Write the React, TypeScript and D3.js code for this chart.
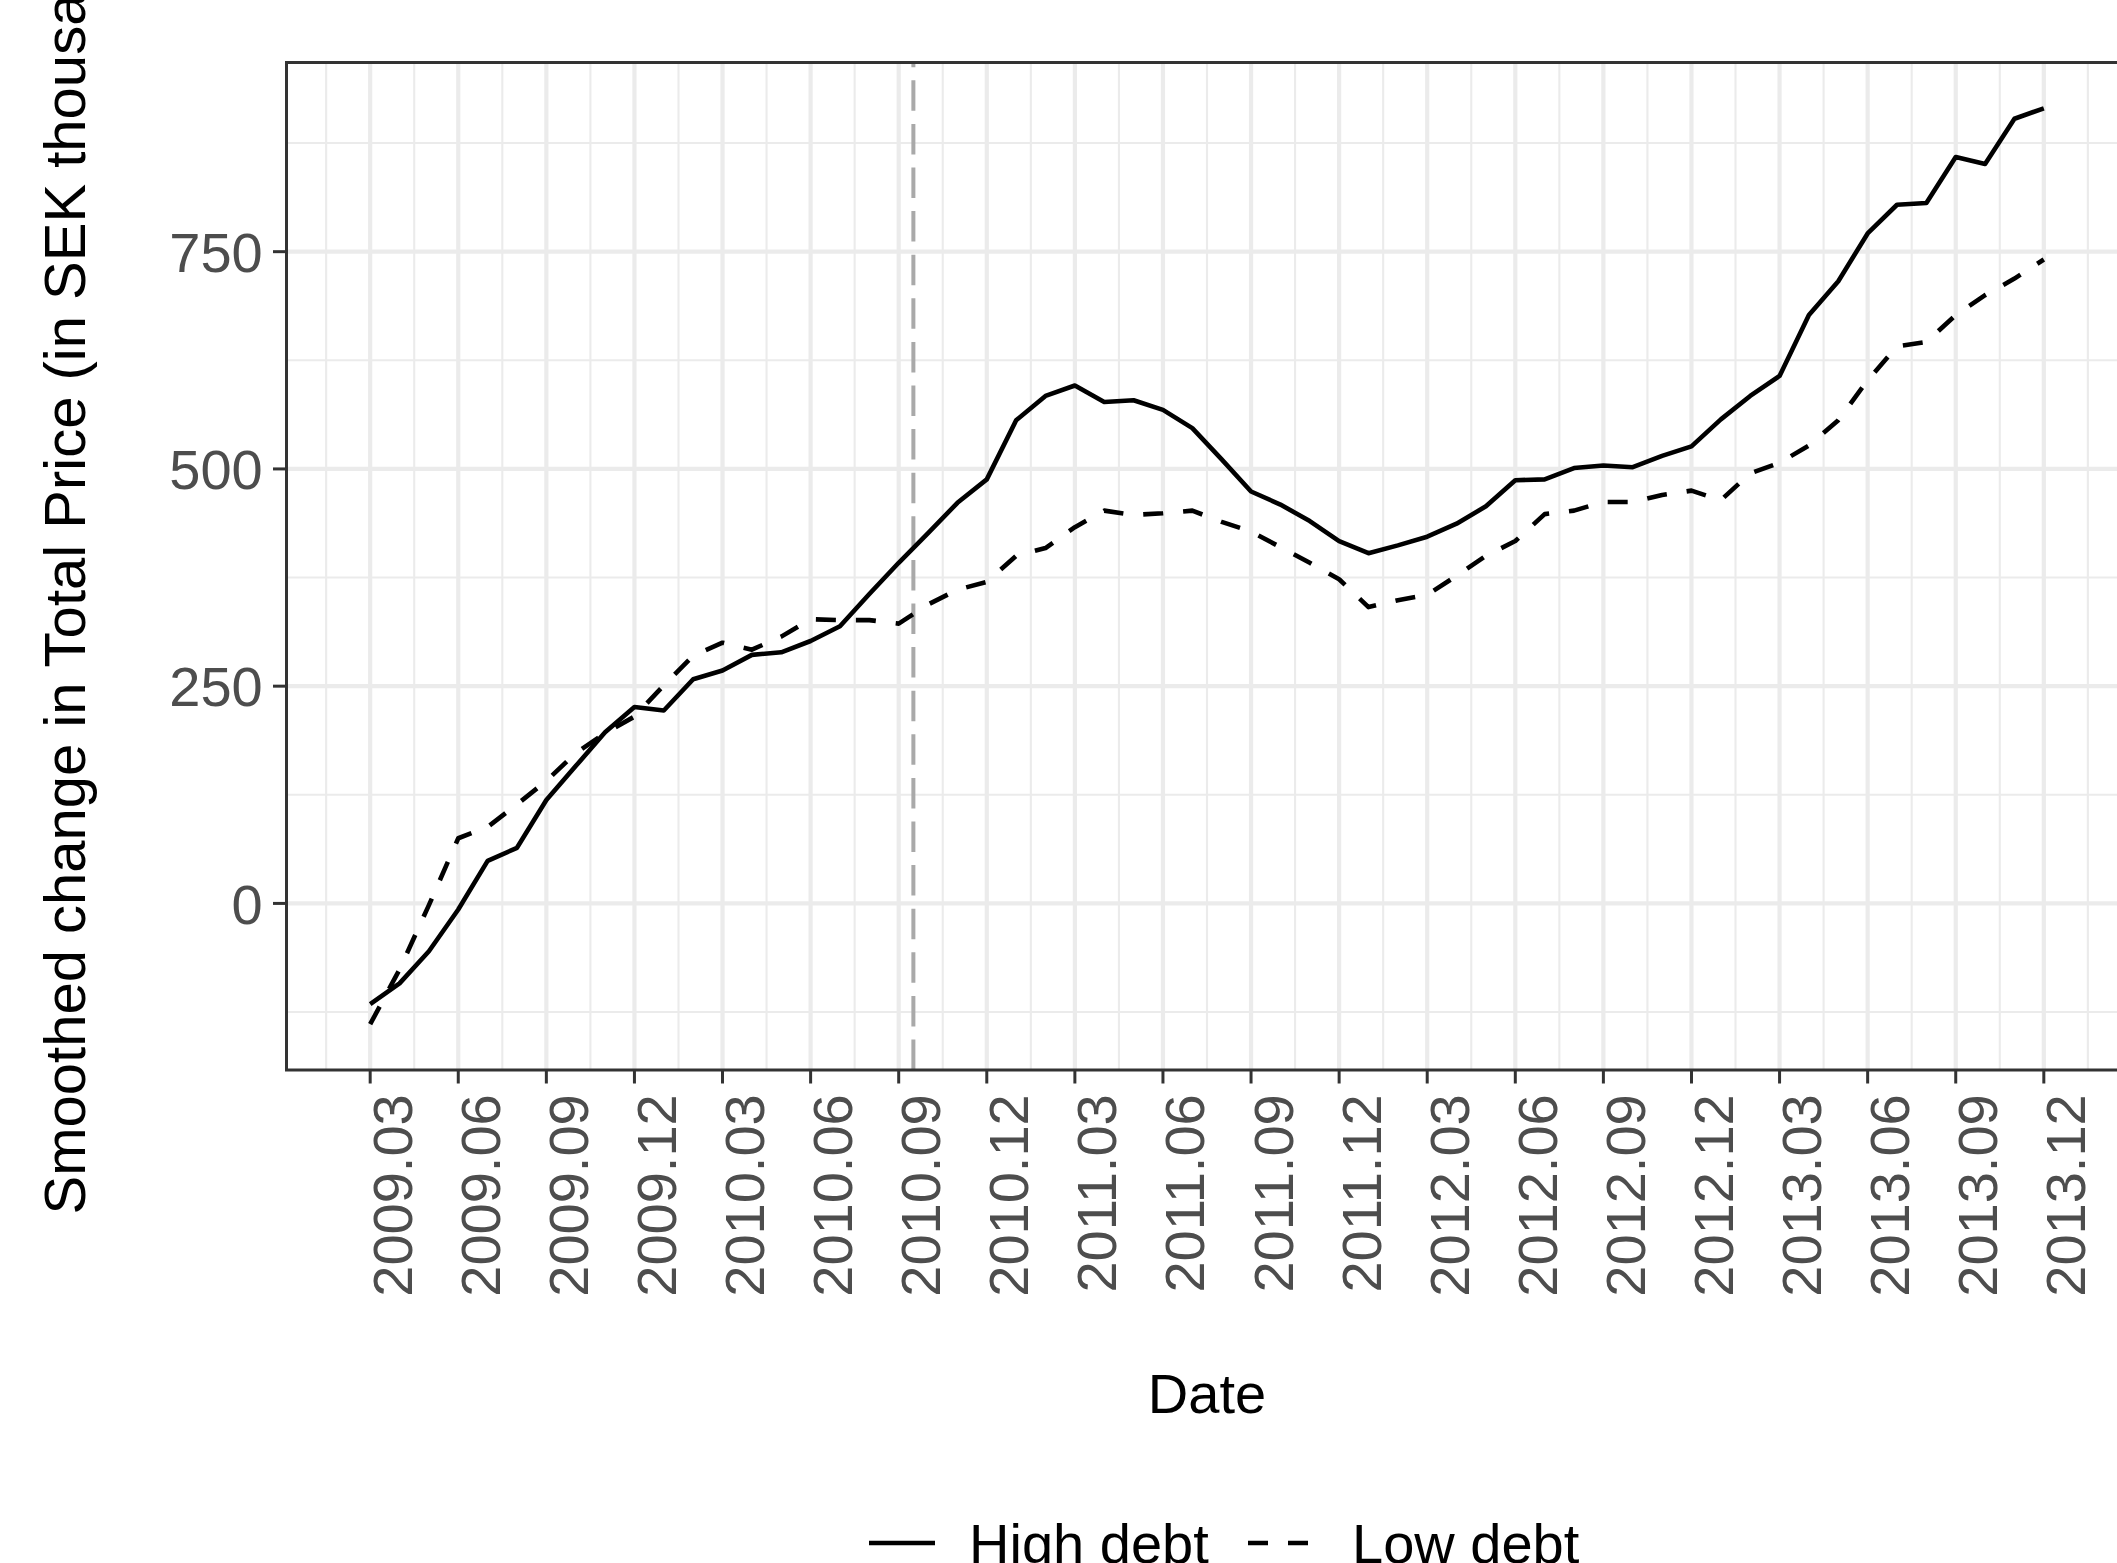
import React from "react";
import * as d3 from "d3";

const months = [
  "2009.03","2009.04","2009.05","2009.06","2009.07","2009.08","2009.09","2009.10","2009.11","2009.12",
  "2010.01","2010.02","2010.03","2010.04","2010.05","2010.06","2010.07","2010.08","2010.09","2010.10",
  "2010.11","2010.12","2011.01","2011.02","2011.03","2011.04","2011.05","2011.06","2011.07","2011.08",
  "2011.09","2011.10","2011.11","2011.12","2012.01","2012.02","2012.03","2012.04","2012.05","2012.06",
  "2012.07","2012.08","2012.09","2012.10","2012.11","2012.12","2013.01","2013.02","2013.03","2013.04",
  "2013.05","2013.06","2013.07","2013.08","2013.09","2013.10","2013.11","2013.12",
];

const highDebt = [
  -116, -92, -55, -7, 49, 64, 119, 158, 197, 226, 222, 258, 268, 286, 289, 302, 319, 356, 392,
  426, 461, 488, 556, 584, 596, 577, 579, 568, 547, 511, 474, 459, 440,
  417, 403, 412, 422, 437, 457, 487, 488, 501, 504, 502, 515,
  526, 557, 584, 607, 677, 716, 771, 804, 806, 859, 851, 903, 915,
];

const lowDebt = [
  -139, -76, -2, 75, 88, 114, 141, 173, 196, 215, 251, 285, 300, 292, 307, 327, 326, 326, 322,
  344, 361, 370, 400, 409, 433, 452, 447, 449, 452, 439, 428, 410, 392,
  373, 341, 349, 355, 377, 400, 417, 448, 452, 462, 462, 470,
  475, 464, 495, 507, 527, 556, 602, 641, 646, 677, 700, 719, 741,
];

const xTickLabels = [
  "2009.03","2009.06","2009.09","2009.12","2010.03","2010.06","2010.09","2010.12","2011.03","2011.06",
  "2011.09","2011.12","2012.03","2012.06","2012.09","2012.12","2013.03","2013.06","2013.09","2013.12",
];
const yTicks = [0, 250, 500, 750];
const yMinorTicks = [-125, 125, 375, 625, 875];
const policyMonth = 18.5; // mid 2010.09
const seriesNames = ["High debt", "Low debt"];

const W = 2117;
const H = 1563;
const FONT = "'Liberation Sans', Arial, Helvetica, sans-serif";

export default function App() {
  const n = months.length;
  const pad = (n - 1) * 0.05;
  const x = d3.scaleLinear().domain([-pad, n - 1 + pad]).range([286.5, 2127.5]);
  const all = [...highDebt, ...lowDebt];
  const [mn, mx] = d3.extent(all) as [number, number];
  const ypad = (mx - mn) * 0.05;
  const y = d3.scaleLinear().domain([mn - ypad, mx + ypad]).range([1070, 62.5]);

  const [x0, x1] = x.range();
  const [y0, y1] = y.range();

  const line = d3
    .line<number>()
    .x((_, i) => x(i))
    .y((d) => y(d));

  const majorX = xTickLabels.map((lab) => months.indexOf(lab));
  const minorX = d3.range(-1.5, n + 1.5, 3).filter((v) => x(v) > x0 && x(v) < x1);

  return (
    <div style={{ position: "absolute", left: 0, top: 0, width: W, height: H, overflow: "hidden" }}>
      <svg width={W} height={H} style={{ display: "block", background: "#fff" }} fontFamily={FONT}>
        <rect x={0} y={0} width={W} height={H} fill="#fff" />
        {/* minor grid */}
        {minorX.map((v) => (
          <line key={"mx" + v} x1={x(v)} x2={x(v)} y1={y1} y2={y0} stroke="#EBEBEB" strokeWidth={2.1} />
        ))}
        {yMinorTicks.map((v) => (
          <line key={"my" + v} x1={x0} x2={x1} y1={y(v)} y2={y(v)} stroke="#EBEBEB" strokeWidth={2.1} />
        ))}
        {/* major grid */}
        {majorX.map((v) => (
          <line key={"Mx" + v} x1={x(v)} x2={x(v)} y1={y1} y2={y0} stroke="#EBEBEB" strokeWidth={4.2} />
        ))}
        {yTicks.map((v) => (
          <line key={"My" + v} x1={x0} x2={x1} y1={y(v)} y2={y(v)} stroke="#EBEBEB" strokeWidth={4.2} />
        ))}
        {/* policy line */}
        <line
          x1={x(policyMonth)}
          x2={x(policyMonth)}
          y1={y0}
          y2={y1}
          stroke="#A9A9A9"
          strokeWidth={4}
          strokeDasharray="30.5 13.1"
        />
        {/* series */}
        <path d={line(highDebt) || ""} fill="none" stroke="#000" strokeWidth={4.6} strokeLinejoin="round" />
        <path
          d={line(lowDebt) || ""}
          fill="none"
          stroke="#000"
          strokeWidth={4.6}
          strokeLinejoin="round"
          strokeDasharray="20 20"
        />
        {/* panel border */}
        <rect x={x0} y={y1} width={x1 - x0} height={y0 - y1} fill="none" stroke="#333333" strokeWidth={3} />
        {/* y axis ticks & labels */}
        {yTicks.map((v) => (
          <g key={"yt" + v}>
            <line x1={x0 - 13.5} x2={x0} y1={y(v)} y2={y(v)} stroke="#333333" strokeWidth={3} />
            <text x={262.7} y={y(v) + 20.3} textAnchor="end" fontSize={56} fill="#4D4D4D">
              {v}
            </text>
          </g>
        ))}
        {/* x axis ticks & labels */}
        {xTickLabels.map((lab) => {
          const i = months.indexOf(lab);
          const px = x(i);
          return (
            <g key={"xt" + lab}>
              <line x1={px} x2={px} y1={y0} y2={y0 + 13.5} stroke="#333333" strokeWidth={3} />
              <text
                transform={`translate(${px + 41.5},${1094.3}) rotate(-90)`}
                textAnchor="end"
                fontSize={56}
                fill="#4D4D4D"
              >
                {lab}
              </text>
            </g>
          );
        })}
        {/* axis titles */}
        <text x={(x0 + x1) / 2} y={1413} textAnchor="middle" fontSize={56} fill="#000">
          Date
        </text>
        <text
          transform={`translate(85,1214.5) rotate(-90)`}
          textAnchor="start"
          fontSize={58}
          fill="#000"
        >
          Smoothed change in Total Price (in SEK thousands)
        </text>
        {/* legend */}
        <line x1={869} x2={935} y1={1543} y2={1543} stroke="#000" strokeWidth={4.6} />
        <text x={969} y={1563} fontSize={56} fill="#000">
          {seriesNames[0]}
        </text>
        <line x1={1248} x2={1314} y1={1543} y2={1543} stroke="#000" strokeWidth={4.6} strokeDasharray="20 20" />
        <text x={1352} y={1563} fontSize={56} fill="#000">
          {seriesNames[1]}
        </text>
      </svg>
    </div>
  );
}
